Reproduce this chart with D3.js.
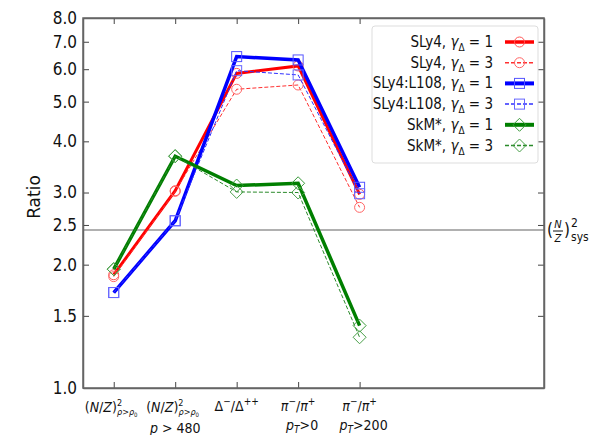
<!DOCTYPE html>
<html><head><meta charset="utf-8">
<script src="https://cdn.jsdelivr.net/npm/d3@7"></script>
<style>
body{margin:0;background:#fff;}
text{font-family:"DejaVu Sans Condensed","DejaVu Sans",sans-serif;font-stretch:condensed;}
</style></head>
<body><svg id="c" width="589" height="435"></svg>
<script>
const categories = [0,1,2,3,4];
const yTicks = [1.0,1.5,2.0,2.5,3.0,4.0,5.0,6.0,7.0,8.0];
const seriesNames = ["SLy4, γΔ = 1","SLy4, γΔ = 3","SLy4:L108, γΔ = 1","SLy4:L108, γΔ = 3","SkM*, γΔ = 1","SkM*, γΔ = 3"];
const sly4_g1 = [1.89, 3.03, 5.86, 6.11, 2.97];
const sly4_g3 = [1.87, 3.02, 5.36, 5.49, 2.76];
const l108_g1 = [1.71, 2.56, 6.44, 6.32, 3.09];
const l108_g3 = [1.71, 2.56, 5.95, 5.81, 2.98];
const skm_g1  = [1.95, 3.68, 3.12, 3.16, 1.42];
const skm_g3  = [1.95, 3.68, 3.01, 3.00, 1.33];
const sysValue = 2.43;

const svg = d3.select("#c");
const L=83,R=544,T=18,B=388;
const x = d3.scaleLinear().domain([-0.5,7]).range([L,R]);
const y = d3.scaleLog().domain([1,8]).range([B,T]);

const series = [
 {name:seriesNames[0], v:sly4_g1, color:"#ff0000", mc:"#ff5555", w:3, dash:null, m:"circle"},
 {name:seriesNames[1], v:sly4_g3, color:"#ff3030", mc:"#ff6666", w:1, dash:"4,2", m:"circle"},
 {name:seriesNames[2], v:l108_g1, color:"#0000ff", mc:"#5555ff", w:3.5, dash:null, m:"square"},
 {name:seriesNames[3], v:l108_g3, color:"#3030ff", mc:"#6666ff", w:1, dash:"4,2", m:"square"},
 {name:seriesNames[4], v:skm_g1, color:"#007f00", mc:"#3a9a3a", w:3.5, dash:null, m:"diamond"},
 {name:seriesNames[5], v:skm_g3, color:"#2a8a2a", mc:"#4aa04a", w:1, dash:"4,2", m:"diamond"}
];

// sys line
svg.append("line").attr("x1",L).attr("x2",R).attr("y1",y(sysValue)).attr("y2",y(sysValue))
  .attr("stroke","#b0b0b0").attr("stroke-width",2);

// axes
const frameColor="#666";
const gl = svg.append("g").attr("transform",`translate(${L},0)`)
  .call(d3.axisLeft(y).tickValues(yTicks).tickFormat(d3.format(".1f")).tickSizeInner(-6).tickSizeOuter(0).tickPadding(6));
const gr = svg.append("g").attr("transform",`translate(${R},0)`)
  .call(d3.axisRight(y).tickValues(yTicks.slice(1,-1)).tickFormat("").tickSizeInner(-6).tickSizeOuter(0));
const gb = svg.append("g").attr("transform",`translate(0,${B})`)
  .call(d3.axisBottom(x).tickValues(categories).tickFormat("").tickSizeInner(-6).tickSizeOuter(0));
const gt = svg.append("g").attr("transform",`translate(0,${T})`)
  .call(d3.axisTop(x).tickValues(categories).tickFormat("").tickSizeInner(-6).tickSizeOuter(0));
[gl,gr,gb,gt].forEach(g=>{
  g.select(".domain").attr("stroke",frameColor).attr("stroke-width",1.5);
  g.selectAll(".tick line").attr("stroke","#444");
});
gl.selectAll(".tick text").attr("font-size",17).attr("fill","#111")
  .style("font-family",'"DejaVu Sans Condensed","DejaVu Sans",sans-serif');
svg.append("rect").attr("x",L).attr("y",T).attr("width",R-L).attr("height",B-T)
  .attr("fill","none").attr("stroke",frameColor).attr("stroke-width",1.5);

// y label
svg.append("text").attr("transform",`translate(40,197) rotate(-90)`)
  .attr("text-anchor","middle").attr("font-size",17).attr("fill","#111")
  .style("font-family",'"DejaVu Sans",sans-serif').style("font-stretch","normal").text("Ratio");

// x labels
const xl = svg.append("g").attr("font-size",14).attr("fill","#111");
function nzLabel(cx, cy){
  const t = xl.append("text").attr("x",cx-29).attr("y",cy);
  t.append("tspan").text("(");
  t.append("tspan").attr("font-style","italic").text("N");
  t.append("tspan").text("/");
  t.append("tspan").attr("font-style","italic").text("Z");
  t.append("tspan").text(")");
  t.append("tspan").attr("font-size",9).attr("dy",-6).text("2");
  t.append("tspan").attr("font-size",9).attr("dx",-5).attr("dy",9).attr("font-style","italic").text("ρ>ρ");
  t.append("tspan").attr("font-size",6).attr("dy",1.5).text("0");
}
nzLabel(x(0),412);
nzLabel(x(1),412);
xl.append("text").attr("x",x(1)).attr("y",433).attr("text-anchor","middle")
  .html('<tspan font-style="italic">p</tspan> &gt; 480');
{
  const t=xl.append("text").attr("x",x(2)).attr("y",411).attr("text-anchor","middle");
  t.append("tspan").text("Δ");
  t.append("tspan").attr("font-size",10).attr("dy",-6).text("−");
  t.append("tspan").attr("dy",6).text("/Δ");
  t.append("tspan").attr("font-size",10).attr("dy",-6).text("++");
}
function piLabel(i, cut){
  const t=xl.append("text").attr("x",x(i)).attr("y",411).attr("text-anchor","middle");
  t.append("tspan").attr("font-style","italic").text("π");
  t.append("tspan").attr("font-size",10).attr("dy",-6).text("−");
  t.append("tspan").attr("dy",6).text("/");
  t.append("tspan").attr("font-style","italic").text("π");
  t.append("tspan").attr("font-size",10).attr("dy",-6).text("+");
  const u=xl.append("text").attr("x",x(i)+4).attr("y",430).attr("text-anchor","middle");
  u.append("tspan").attr("font-style","italic").text("p");
  u.append("tspan").attr("font-style","italic").attr("font-size",10).attr("dy",3).text("T");
  u.append("tspan").attr("dy",-3).text(">"+cut);
}
piLabel(3,"0");
piLabel(4,"200");

// sys label
{
  const g=svg.append("g").attr("fill","#111");
  const yy=y(sysValue);
  g.append("text").attr("x",547).attr("y",yy+6).attr("font-size",17).text("(");
  g.append("text").attr("x",558).attr("y",yy-2).attr("font-size",11).attr("font-style","italic").attr("text-anchor","middle").text("N");
  g.append("line").attr("x1",553).attr("x2",563).attr("y1",yy+1).attr("y2",yy+1).attr("stroke","#111").attr("stroke-width",1);
  g.append("text").attr("x",558).attr("y",yy+12).attr("font-size",11).attr("font-style","italic").attr("text-anchor","middle").text("Z");
  g.append("text").attr("x",564).attr("y",yy+6).attr("font-size",17).text(")");
  g.append("text").attr("x",571).attr("y",yy-3).attr("font-size",12).text("2");
  g.append("text").attr("x",571).attr("y",yy+11).attr("font-size",12).text("sys");
}

// markers
function marker(g, m, cx, cy, col){
  if(m==="circle") g.append("circle").attr("cx",cx).attr("cy",cy).attr("r",5).attr("fill","none").attr("stroke",col).attr("stroke-width",1);
  else if(m==="square") g.append("rect").attr("x",cx-5).attr("y",cy-5).attr("width",10).attr("height",10).attr("fill","none").attr("stroke",col).attr("stroke-width",1);
  else g.append("path").attr("d",`M${cx},${cy-6.5}L${cx+6.5},${cy}L${cx},${cy+6.5}L${cx-6.5},${cy}Z`).attr("fill","none").attr("stroke",col).attr("stroke-width",1);
}
const line = d3.line().x((d,i)=>x(categories[i])).y(d=>y(d));
series.forEach(s=>{
  const g=svg.append("g");
  g.append("path").attr("d",line(s.v)).attr("fill","none").attr("stroke",s.color)
   .attr("stroke-width",s.w).attr("stroke-dasharray",s.dash).attr("stroke-linejoin","miter");
  s.v.forEach((v,i)=>marker(g,s.m,x(categories[i]),y(v),s.mc));
});

// legend
const lg=svg.append("g");
lg.append("rect").attr("x",372).attr("y",26).attr("width",166).attr("height",137).attr("rx",3)
  .attr("fill","rgba(255,255,255,0.85)").attr("stroke","#ddd").attr("stroke-width",1);
series.forEach((s,i)=>{
  const yy=42+i*20.7;
  const parts=s.name.split("γΔ");
  const t=lg.append("text").attr("x",493).attr("y",yy+5).attr("text-anchor","end").attr("font-size",15).attr("fill","#111");
  t.append("tspan").text(parts[0]);
  t.append("tspan").attr("font-style","italic").text("γ");
  t.append("tspan").attr("font-size",10).attr("dy",4).text("Δ");
  t.append("tspan").attr("dy",-4).text(parts[1]);
  lg.append("line").attr("x1",505).attr("x2",534).attr("y1",yy).attr("y2",yy)
    .attr("stroke",s.color).attr("stroke-width",s.w+0.5).attr("stroke-dasharray",s.dash);
  marker(lg,s.m,519.5,yy,s.mc);
});
</script></body></html>
